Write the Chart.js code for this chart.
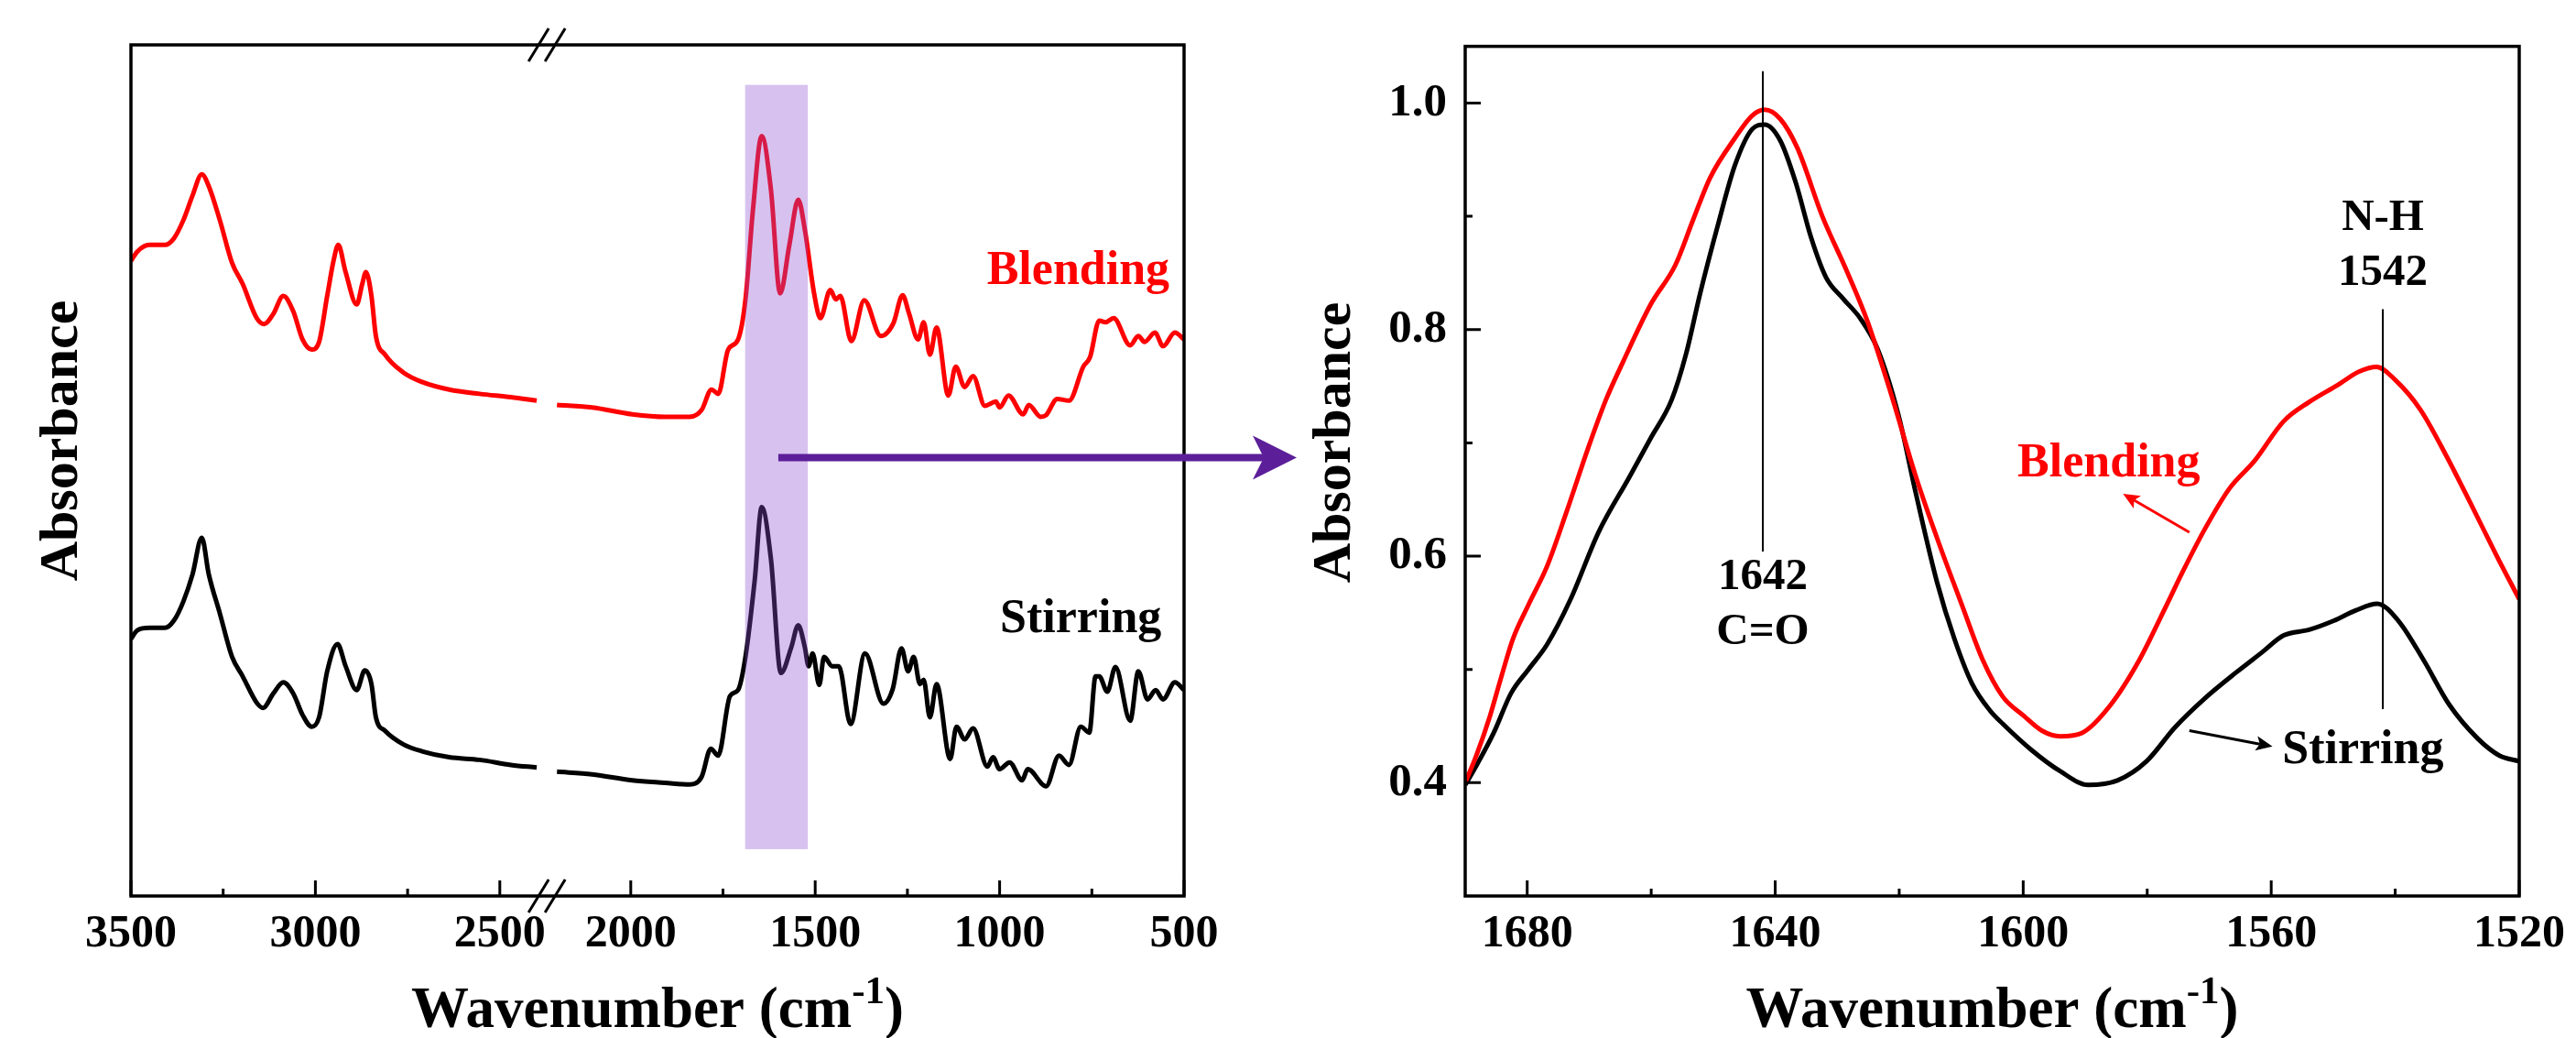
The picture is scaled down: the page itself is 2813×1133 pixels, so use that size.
<!DOCTYPE html>
<html>
<head>
<meta charset="utf-8">
<script src="https://cdn.jsdelivr.net/npm/chart.js@4.4.1/dist/chart.umd.min.js"></script>
<style>
    html, body { margin: 0; padding: 0; background: #fff; }
    #wrap { position: relative; width: 2813px; height: 1133px; }
    #wrap canvas { position: absolute; left: 0; top: 0; }
</style>
</head>
<body>
<div id="wrap">
    <canvas id="fullChart" width="2813" height="1133" style="width:2813px;height:1133px"></canvas>
    <canvas id="zoomChart" width="2813" height="1133" style="width:2813px;height:1133px"></canvas>
</div>
<script>
// 全体スペクトル (左図, 2400-2200 cm-1 は省略)
const blendWnFull = [3500, 3483, 3450, 3408, 3383, 3358, 3333, 3308, 3289, 3259, 3226, 3197, 3159, 3139, 3114, 3087, 3060, 3035, 3010, 2990,
    2968, 2950, 2938, 2918, 2888, 2873, 2863, 2848, 2836, 2811, 2761, 2711, 2637, 2555, 2470, 2400,
    2200, 2105, 1996, 1907, 1840, 1808, 1781, 1763, 1736, 1709, 1689, 1669, 1645, 1620, 1595, 1570, 1546, 1527, 1503, 1486,
    1459, 1444, 1432, 1402, 1367, 1322, 1288, 1263, 1246, 1221, 1206, 1189, 1171, 1139, 1119, 1095, 1072, 1040, 1010, 1000,
    976, 936, 921, 889, 874, 844, 812, 773, 755, 730, 713, 691, 646, 624, 607, 579, 557, 525, 500];
const blendAbsFull = [.746, .757, .765, .765, .773, .794, .823, .848, .834, .794, .744, .719, .679, .672, .684, .705, .687, .654, .642, .651,
    .705, .748, .765, .733, .695, .719, .733, .705, .658, .636, .615, .604, .595, .590, .586, .582,
    .577, .574, .566, .563, .563, .571, .595, .590, .642, .654, .701, .805, .893, .830, .708, .765, .818, .780, .708, .679,
    .712, .701, .705, .652, .700, .658, .673, .706, .685, .654, .674, .636, .668, .588, .622, .598, .611, .576, .581, .574,
    .588, .566, .577, .563, .565, .584, .582, .622, .633, .676, .674, .679, .647, .658, .651, .662, .646, .662, .654];
const stirWnFull = [3500, 3483, 3450, 3408, 3383, 3358, 3333, 3308, 3289, 3259, 3226, 3197, 3159, 3142, 3114, 3087, 3060, 3035, 3010, 2990,
    2968, 2940, 2918, 2888, 2866, 2848, 2836, 2811, 2761, 2711, 2637, 2555, 2470, 2400,
    2200, 2105, 1996, 1907, 1840, 1808, 1783, 1763, 1731, 1709, 1689, 1664, 1645, 1620, 1593, 1565, 1546, 1528, 1518, 1507,
    1489, 1476, 1454, 1436, 1404, 1365, 1315, 1290, 1266, 1248, 1233, 1216, 1206, 1189, 1171, 1134, 1117, 1095, 1072, 1033,
    1018, 1000, 973, 939, 924, 874, 839, 812, 780, 757, 740, 730, 708, 686, 646, 624, 599, 577, 557, 525, 500];
const stirAbsFull = [.302, .312, .315, .315, .324, .346, .378, .421, .378, .332, .281, .258, .227, .221, .238, .251, .238, .213, .199, .210,
    .264, .296, .270, .242, .265, .249, .210, .194, .178, .170, .163, .160, .154, .151,
    .146, .143, .136, .133, .131, .140, .173, .165, .235, .242, .281, .371, .457, .396, .262, .292, .318, .292, .270, .285,
    .248, .281, .270, .270, .202, .285, .226, .243, .291, .264, .281, .249, .254, .210, .249, .161, .199, .184, .197, .152,
    .163, .149, .157, .136, .149, .129, .165, .154, .199, .192, .258, .258, .240, .269, .206, .264, .231, .242, .231, .251, .242];

// 拡大スペクトル (右図)
const blendWnZoom = [1690.0, 1688.2, 1686.0, 1684.2, 1682.3, 1679.8, 1676.8, 1673.6, 1670.2, 1667.3, 1664.5, 1660.1, 1656.1, 1653.3, 1650.5,
    1646.5, 1643.7, 1641.7, 1639.2, 1636.4, 1632.4, 1628.4, 1625.1, 1621.3, 1617.3, 1613.9, 1609.9, 1606.5, 1603.3, 1599.9,
    1597.0, 1594.0, 1590.5, 1586.0, 1581.3, 1577.3, 1574.3, 1570.8, 1566.7, 1562.7, 1558.0, 1553.9, 1549.3, 1545.8, 1543.0,
    1539.9, 1535.9, 1531.8, 1527.7, 1523.7, 1520.0];
const blendAbsZoom = [.400, .424, .459, .493, .527, .557, .591, .640, .695, .738, .772, .822, .857, .896, .934,
    .969, .989, .994, .986, .960, .900, .851, .807, .743, .670, .616, .557, .508, .476, .459,
    .446, .441, .444, .468, .508, .552, .586, .623, .660, .684, .719, .736, .751, .763, .767,
    .755, .729, .689, .645, .601, .562];
const stirWnZoom = [1690.0, 1688.2, 1685.4, 1682.6, 1679.8, 1676.8, 1673.0, 1668.5, 1663.5, 1660.1, 1656.7, 1654.4, 1652.1, 1649.3, 1646.5,
    1643.7, 1641.7, 1639.2, 1636.7, 1634.2, 1631.8, 1629.0, 1626.3, 1623.5, 1620.1, 1617.3, 1613.9, 1611.1, 1608.3, 1605.4,
    1603.3, 1598.7, 1594.0, 1589.5, 1584.8, 1580.1, 1575.5, 1570.8, 1565.5, 1561.5, 1558.0, 1553.9, 1549.9, 1546.4, 1542.9,
    1539.5, 1535.4, 1531.3, 1526.7, 1523.2, 1520.0];
const stirAbsZoom = [.398, .415, .444, .479, .500, .522, .562, .621, .670, .704, .738, .778, .832, .891, .945,
    .977, .981, .967, .930, .881, .846, .827, .810, .783, .724, .655, .577, .527, .488, .464,
    .452, .429, .410, .398, .402, .419, .449, .474, .498, .515, .530, .535, .543, .552, .558,
    .543, .508, .469, .439, .424, .419];

// 目盛り
const fullTickLabels = [3500, 3000, 2500, 2000, 1500, 1000, 500];
const fullMinorTicks = [3250, 2750, 1750, 1250, 750];
const zoomTicksX = [1680, 1640, 1600, 1560, 1520];
const zoomMinorX = [1660, 1620, 1580, 1540];
const zoomTicksY = [0.4, 0.6, 0.8, 1.0];
const zoomMinorY = [0.5, 0.7, 0.9];

// 強調範囲とピーク
const bandWn = [1690, 1520];
const bandAbs = [0.055, 0.953];
const peakCO = 1642;
const peakNH = 1542;

// 省略区間 (2400〜2200 cm-1)
const BREAK_HI = 2400;
const BREAK_LO = 2200;
const BREAK_GAP = 55;
function toAxis(wn) {
    return wn >= BREAK_HI ? wn : wn + (BREAK_HI - BREAK_LO) - BREAK_GAP;
}

const FONT = "'Liberation Serif', 'Times New Roman', serif";
const RED = '#ff0000';
const BLACK = '#000000';
Chart.defaults.font.family = FONT;
Chart.defaults.color = '#000';

function fullPoints(wn, abs) {
    const pts = [];
    wn.forEach((w, i) => {
        if (i > 0 && wn[i - 1] >= BREAK_HI && w <= BREAK_LO) {
            pts.push({ x: (toAxis(BREAK_HI) + toAxis(BREAK_LO)) / 2, y: null });
        }
        pts.push({ x: toAxis(w), y: abs[i] });
    });
    return pts;
}

function zoomPoints(wn, abs) {
    return wn.map((w, i) => ({ x: w, y: abs[i] }));
}

function lineSet(data, color) {
    return {
        data: data,
        borderColor: color,
        borderWidth: 5,
        pointRadius: 0,
        fill: false,
        spanGaps: false,
        cubicInterpolationMode: 'monotone'
    };
}

// 描画ヘルパー
function text(ctx, str, x, y, size, color, rotate) {
    ctx.save();
    ctx.font = `bold ${size}px ${FONT}`;
    ctx.fillStyle = color;
    ctx.textAlign = 'center';
    ctx.textBaseline = 'middle';
    ctx.translate(x, y);
    if (rotate) ctx.rotate(-Math.PI / 2);
    ctx.fillText(str, 0, 0);
    ctx.restore();
}

function waveTitle(ctx, cx, base) {
    const big = `bold 63px ${FONT}`;
    const small = `bold 43px ${FONT}`;
    ctx.save();
    ctx.fillStyle = '#000';
    ctx.textAlign = 'left';
    ctx.textBaseline = 'alphabetic';
    ctx.font = big;
    const w1 = ctx.measureText('Wavenumber (cm').width;
    const w3 = ctx.measureText(')').width;
    ctx.font = small;
    const w2 = ctx.measureText('-1').width;
    const x = cx - (w1 + w2 + w3) / 2;
    ctx.font = big;
    ctx.fillText('Wavenumber (cm', x, base);
    ctx.font = small;
    ctx.fillText('-1', x + w1, base - 26);
    ctx.font = big;
    ctx.fillText(')', x + w1 + w2, base);
    ctx.restore();
}

function arrow(ctx, x1, y1, x2, y2, color, lw, headLen, headHalf, notch) {
    const len = Math.hypot(x2 - x1, y2 - y1);
    ctx.save();
    ctx.translate(x2, y2);
    ctx.rotate(Math.atan2(y2 - y1, x2 - x1));
    ctx.strokeStyle = color;
    ctx.fillStyle = color;
    ctx.lineWidth = lw;
    ctx.beginPath();
    ctx.moveTo(-len, 0);
    ctx.lineTo(-headLen + notch, 0);
    ctx.stroke();
    ctx.beginPath();
    ctx.moveTo(0, 0);
    ctx.lineTo(-headLen, -headHalf);
    ctx.lineTo(-headLen + notch, 0);
    ctx.lineTo(-headLen, headHalf);
    ctx.closePath();
    ctx.fill();
    ctx.restore();
}

function frame(ctx, area) {
    ctx.save();
    ctx.strokeStyle = '#000';
    ctx.lineWidth = 3.5;
    ctx.strokeRect(area.left, area.top, area.right - area.left, area.bottom - area.top);
    ctx.restore();
}

function ticksX(ctx, scale, area, values, len) {
    ctx.save();
    ctx.strokeStyle = '#000';
    ctx.lineWidth = 3;
    ctx.beginPath();
    values.forEach((v) => {
        const px = scale.getPixelForValue(v);
        ctx.moveTo(px, area.bottom);
        ctx.lineTo(px, area.bottom - len);
    });
    ctx.stroke();
    ctx.restore();
}

function ticksY(ctx, scale, area, values, len) {
    ctx.save();
    ctx.strokeStyle = '#000';
    ctx.lineWidth = 3;
    ctx.beginPath();
    values.forEach((v) => {
        const py = scale.getPixelForValue(v);
        ctx.moveTo(area.left, py);
        ctx.lineTo(area.left + len, py);
    });
    ctx.stroke();
    ctx.restore();
}

function breakMark(ctx, cx, cy) {
    ctx.save();
    ctx.strokeStyle = '#000';
    ctx.lineWidth = 3;
    ctx.beginPath();
    ctx.moveTo(cx - 20, cy + 18);
    ctx.lineTo(cx + 2, cy - 18);
    ctx.moveTo(cx - 2, cy + 18);
    ctx.lineTo(cx + 20, cy - 18);
    ctx.stroke();
    ctx.restore();
}

// 左図の装飾
const fullDecor = {
    id: 'fullDecor',
    afterDatasetsDraw(chart) {
        const { ctx, scales: { x, y } } = chart;
        const x1 = x.getPixelForValue(toAxis(bandWn[0]));
        const x2 = x.getPixelForValue(toAxis(bandWn[1]));
        const y1 = y.getPixelForValue(bandAbs[1]);
        const y2 = y.getPixelForValue(bandAbs[0]);
        ctx.save();
        ctx.fillStyle = 'rgba(140, 80, 210, 0.35)';
        ctx.fillRect(x1, y1, x2 - x1, y2 - y1);
        ctx.restore();
    },
    afterDraw(chart) {
        const { ctx, chartArea: area, scales: { x, y } } = chart;
        frame(ctx, area);
        ticksX(ctx, x, area, fullTickLabels.map(toAxis), 17);
        ticksX(ctx, x, area, fullMinorTicks.map(toAxis), 8);
        const bx = (x.getPixelForValue(toAxis(BREAK_HI)) + x.getPixelForValue(toAxis(BREAK_LO))) / 2;
        breakMark(ctx, bx, area.top);
        breakMark(ctx, bx, area.bottom);

        const ay = y.getPixelForValue(0.515);
        arrow(ctx, x.getPixelForValue(toAxis(1600)), ay, area.right + 123, ay, '#5c1f99', 8, 48, 24, 12);

        text(ctx, 'Blending', x.getPixelForValue(toAxis(787)), y.getPixelForValue(0.734), 52, RED);
        text(ctx, 'Stirring', x.getPixelForValue(toAxis(780)), y.getPixelForValue(0.325), 52, BLACK);
        text(ctx, 'Absorbance', 68, 481, 60, BLACK, true);
        waveTitle(ctx, (area.left + area.right) / 2, 1121);
    }
};

// 右図の装飾
const zoomDecor = {
    id: 'zoomDecor',
    afterDraw(chart) {
        const { ctx, chartArea: area, scales: { x, y } } = chart;
        frame(ctx, area);
        ticksX(ctx, x, area, zoomTicksX, 17);
        ticksX(ctx, x, area, zoomMinorX, 8);
        ticksY(ctx, y, area, zoomTicksY, 17);
        ticksY(ctx, y, area, zoomMinorY, 8);

        // ピーク位置の線
        ctx.save();
        ctx.strokeStyle = '#000';
        ctx.lineWidth = 2;
        ctx.beginPath();
        ctx.moveTo(x.getPixelForValue(peakCO), y.getPixelForValue(1.028));
        ctx.lineTo(x.getPixelForValue(peakCO), y.getPixelForValue(0.604));
        ctx.moveTo(x.getPixelForValue(peakNH), y.getPixelForValue(0.818));
        ctx.lineTo(x.getPixelForValue(peakNH), y.getPixelForValue(0.465));
        ctx.stroke();
        ctx.restore();

        text(ctx, String(peakCO), x.getPixelForValue(peakCO), y.getPixelForValue(0.581), 49, BLACK);
        text(ctx, 'C=O', x.getPixelForValue(peakCO), y.getPixelForValue(0.533), 49, BLACK);
        text(ctx, 'N-H', x.getPixelForValue(peakNH), y.getPixelForValue(0.898), 49, BLACK);
        text(ctx, String(peakNH), x.getPixelForValue(peakNH), y.getPixelForValue(0.850), 49, BLACK);

        text(ctx, 'Blending', x.getPixelForValue(1586.2), y.getPixelForValue(0.681), 52, RED);
        arrow(ctx, x.getPixelForValue(1573.2), y.getPixelForValue(0.621),
            x.getPixelForValue(1583.9), y.getPixelForValue(0.655), RED, 3, 18, 8, 4);
        text(ctx, 'Stirring', x.getPixelForValue(1545.2), y.getPixelForValue(0.428), 52, BLACK);
        arrow(ctx, x.getPixelForValue(1573.2), y.getPixelForValue(0.446),
            x.getPixelForValue(1559.8), y.getPixelForValue(0.432), BLACK, 3, 18, 8, 4);

        text(ctx, 'Absorbance', 1458, 483, 60, BLACK, true);
        waveTitle(ctx, (area.left + area.right) / 2, 1121);
    }
};

const W = 2813;
const H = 1133;

// 左図: 全体
new Chart(document.getElementById('fullChart'), {
    type: 'line',
    data: {
        datasets: [
            lineSet(fullPoints(blendWnFull, blendAbsFull), RED),
            lineSet(fullPoints(stirWnFull, stirAbsFull), BLACK)
        ]
    },
    options: {
        responsive: false,
        maintainAspectRatio: false,
        devicePixelRatio: 1,
        animation: false,
        layout: { padding: { left: 143, right: W - 1293, top: 49, bottom: 0 } },
        scales: {
            x: {
                type: 'linear',
                reverse: true,
                min: toAxis(500),
                max: 3500,
                grid: { display: false, drawTicks: false },
                border: { display: false },
                afterFit: (s) => { s.height = H - 978; },
                afterBuildTicks: (s) => { s.ticks = fullTickLabels.map((w) => ({ value: toAxis(w) })); },
                ticks: {
                    autoSkip: false,
                    maxRotation: 0,
                    padding: 12,
                    color: '#000',
                    font: { size: 50, weight: 'bold' },
                    callback: (v, i) => fullTickLabels[i]
                }
            },
            y: { display: false, min: 0, max: 1 }
        },
        plugins: { legend: { display: false }, tooltip: { enabled: false } }
    },
    plugins: [fullDecor]
});

// 右図: 拡大
new Chart(document.getElementById('zoomChart'), {
    type: 'line',
    data: {
        datasets: [
            lineSet(zoomPoints(blendWnZoom, blendAbsZoom), RED),
            lineSet(zoomPoints(stirWnZoom, stirAbsZoom), BLACK)
        ]
    },
    options: {
        responsive: false,
        maintainAspectRatio: false,
        devicePixelRatio: 1,
        animation: false,
        layout: { padding: { left: 1500, right: W - 2754, top: 49, bottom: 0 } },
        scales: {
            x: {
                type: 'linear',
                reverse: true,
                min: 1520,
                max: 1690,
                grid: { display: false, drawTicks: false },
                border: { display: false },
                afterFit: (s) => { s.height = H - 978; },
                afterBuildTicks: (s) => { s.ticks = zoomTicksX.map((v) => ({ value: v })); },
                ticks: {
                    autoSkip: false,
                    maxRotation: 0,
                    padding: 12,
                    color: '#000',
                    font: { size: 50, weight: 'bold' },
                    callback: (v) => String(v)
                }
            },
            y: {
                min: 0.3,
                max: 1.05,
                grid: { display: false, drawTicks: false },
                border: { display: false },
                afterFit: (s) => { s.width = 100; },
                afterBuildTicks: (s) => { s.ticks = zoomTicksY.map((v) => ({ value: v })); },
                ticks: {
                    autoSkip: false,
                    padding: 20,
                    color: '#000',
                    font: { size: 51, weight: 'bold' },
                    callback: (v) => v.toFixed(1)
                }
            }
        },
        plugins: { legend: { display: false }, tooltip: { enabled: false } }
    },
    plugins: [zoomDecor]
});
</script>
</body>
</html>
